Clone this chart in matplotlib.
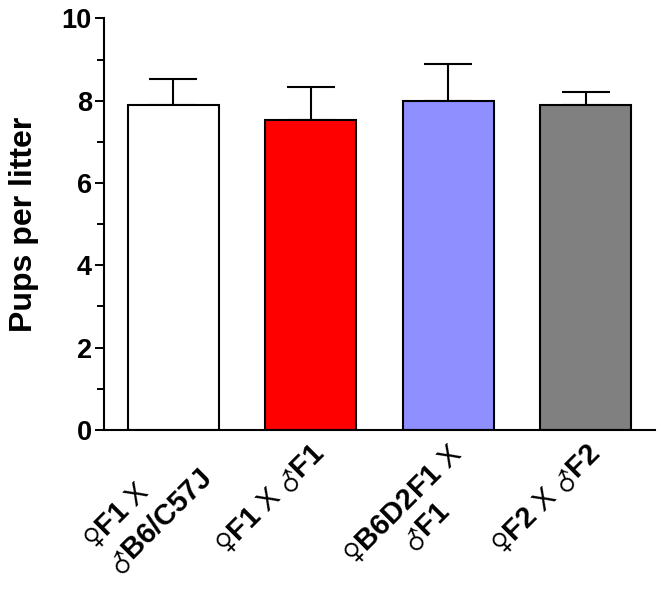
import numpy as np
import matplotlib
matplotlib.use('Agg')
import matplotlib.pyplot as plt

# dados
grupos = ["$\\mathsf{♀}\\mathbf{F1}$ X\n$\\mathsf{♂}\\mathbf{B6/C57J}$",
          "$\\mathsf{♀}\\mathbf{F1}$ X $\\mathsf{♂}\\mathbf{F1}$",
          "$\\mathsf{♀}\\mathbf{B6D2F1}$ X\n$\\mathsf{♂}\\mathbf{F1}$",
          "$\\mathsf{♀}\\mathbf{F2}$ X $\\mathsf{♂}\\mathbf{F2}$"]
alinhamento = ['left', 'left', 'center', 'left']
media = [7.89, 7.54, 7.99, 7.89]
erro = [0.64, 0.80, 0.91, 0.31]
cores = ['#FFFFFF', '#FF0000', '#8F8FFF', '#808080']

plt.rcParams['font.family'] = ['Liberation Sans', 'DejaVu Sans']
plt.rcParams['mathtext.fontset'] = 'custom'
plt.rcParams['mathtext.rm'] = 'Liberation Sans'
plt.rcParams['mathtext.bf'] = 'Liberation Sans:bold'
plt.rcParams['mathtext.sf'] = 'DejaVu Sans:light'

fig = plt.figure(figsize=(6.61, 5.93), dpi=100)
ax = fig.add_axes([0.157, 0.275, 0.834, 0.694])

x = np.arange(len(media))
ax.bar(x, media, width=0.66, color=cores, edgecolor='black', linewidth=1.5, zorder=2)
ax.errorbar(x, media, yerr=[np.zeros(len(erro)), erro], fmt='none', ecolor='black',
            elinewidth=1.5, capsize=17, capthick=1.5, zorder=1)

ax.set_xlim(-0.505, 3.505)
ax.set_ylim(0, 10)
ax.set_yticks([0, 2, 4, 6, 8, 10])
ax.set_yticks([1, 3, 5, 7, 9], minor=True)
ax.tick_params(axis='y', which='major', length=6.5, width=1.4, labelsize=19.5, pad=2)
ax.tick_params(axis='y', which='minor', length=5, width=1.4)
for lab in ax.get_yticklabels():
    lab.set_fontweight('bold')

ax.set_xticks(x)
ax.set_xticklabels(grupos, rotation=45, ha='right', va='top', rotation_mode='anchor', fontsize=21)
for lab, al in zip(ax.get_xticklabels(), alinhamento):
    lab.set_multialignment(al)
ax.tick_params(axis='x', length=0, pad=7)

ax.set_ylabel('Pups per litter', fontsize=23, fontweight='bold', labelpad=16)

for s in ['top', 'right']:
    ax.spines[s].set_visible(False)
for s in ['left', 'bottom']:
    ax.spines[s].set_linewidth(1.5)

plt.savefig('out.png', dpi=100)
